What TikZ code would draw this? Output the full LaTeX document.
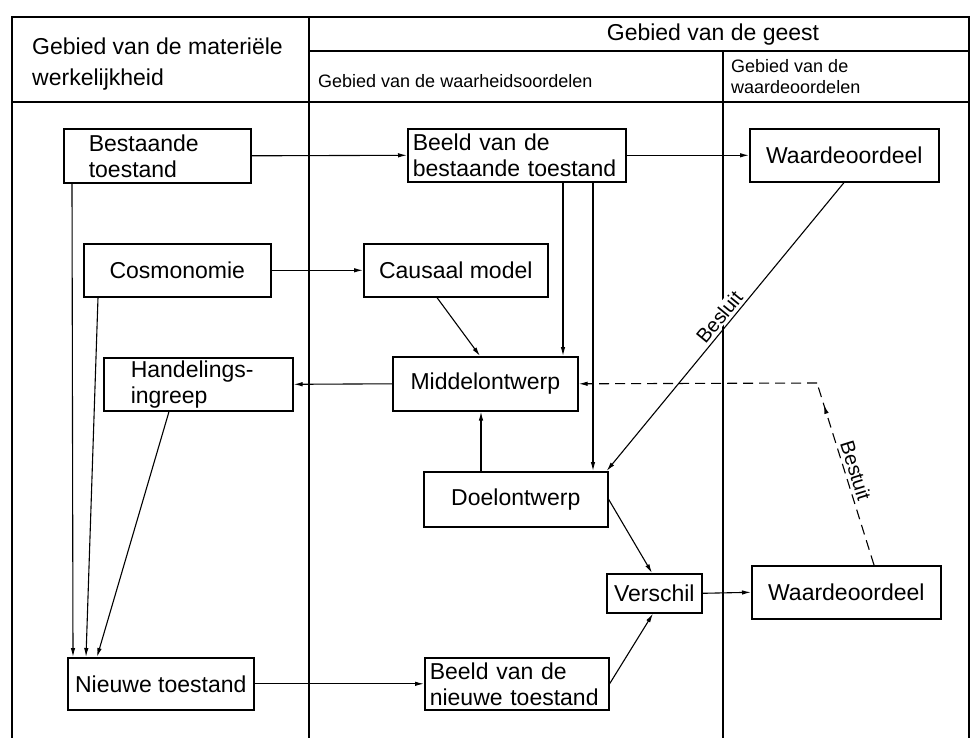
\documentclass[tikz,border=0pt]{standalone}
\usepackage{fontspec}
\setmainfont{Liberation Sans}
\usetikzlibrary{arrows.meta,decorations.markings}
\newcommand\boxfont{\fontsize{23}{26}\selectfont}
\newcommand\hdrfont{\fontsize{23}{31}\selectfont}
\newcommand\smallhdrfont{\fontsize{18}{21}\selectfont}
\newcommand\labfont{\fontsize{20}{22}\selectfont}
\begin{document}
\begin{tikzpicture}[x=1pt,y=-1pt,
  rule/.style={line width=1.2pt},
  box/.style={draw, line width=1.6pt, anchor=north west, inner ysep=0pt, font=\boxfont},
  lbox/.style={box, align=left},
  cbox/.style={box, align=center, inner xsep=2pt},
  tip/.style={-{Latex[length=9pt,width=4.5pt]}},
  conn/.style={line width=1.1pt, tip},
  flow/.style={line width=1.1pt, dash pattern=on 10pt off 6pt},
  hdr/.style={font=\hdrfont, anchor=west, align=left, inner sep=0pt},
  shdr/.style={font=\smallhdrfont, anchor=west, align=left, inner sep=0pt},
  lab/.style={font=\labfont, inner sep=1pt}
]
\useasboundingbox (0,0) rectangle (975,738);

% column rules and header rows
\draw[rule] (12,738) -- (12,17) -- (969,17) -- (969,738);
\draw[rule] (309,17) -- (309,738);
\draw[rule] (309,51) -- (969,51);
\draw[rule] (723,51) -- (723,738);
\draw[rule] (12,102) -- (969,102);

% column headings
\node[hdr] (hmat) at (32,64) {Gebied van de materiële\\werkelijkheid};
\node[font=\hdrfont, inner sep=0pt] (hgeest) at (713,35) {Gebied van de geest};
\node[shdr] (hwaarh) at (318,81) {Gebied van de waarheidsoordelen};
\node[shdr] (hwaarde) at (731,77) {Gebied van de\\waardeoordelen};

% material reality
\node[lbox, text width=137pt, inner xsep=25pt, minimum height=54pt] (bestaande) at (63,128) {Bestaande\\toestand};
\node[cbox, minimum width=187pt, minimum height=53pt] (cosmo) at (83,243) {Cosmonomie};
\node[lbox, text width=135pt, inner xsep=27pt, minimum height=53pt] (handel) at (103,357) {Handelings-\\ingreep};
\node[cbox, minimum width=186pt, minimum height=52pt] (nieuw) at (67,657) {Nieuwe toestand};

% judgements of truth
\node[lbox, text width=208pt, inner xsep=5pt, minimum height=53pt] (beeldb) at (407,128) {Beeld van de\\bestaande toestand};
\node[cbox, minimum width=184pt, minimum height=53pt] (causaal) at (363,243) {Causaal model};
\node[cbox, minimum width=185pt, minimum height=54pt] (middel) at (392,356) {Middelontwerp};
\node[cbox, minimum width=184pt, minimum height=55pt] (doel) at (423,471) {Doelontwerp};
\node[cbox, minimum width=95pt, minimum height=39pt] (verschil) at (606,573) {Verschil};
\node[lbox, text width=174pt, inner xsep=5pt, minimum height=52pt] (beeldn) at (424,657) {Beeld van de\\nieuwe toestand};

% value judgements
\node[cbox, minimum width=189pt, minimum height=53pt] (waarde1) at (749,128) {Waardeoordeel};
\node[cbox, minimum width=189pt, minimum height=53pt] (waarde2) at (751,565) {Waardeoordeel};

% horizontal links
\draw[conn] (bestaande.east) -- (beeldb.west);
\draw[conn] (beeldb.east) -- (waarde1.west);
\draw[conn] (cosmo.east) -- (causaal.west);
\draw[conn] (middel.west) -- (handel.east);
\draw[conn] (nieuw.east) -- (beeldn.west);
\draw[conn] (verschil.east) -- (waarde2.west);

% into the new state
\draw[conn] ([xshift=9pt]bestaande.south west) -- ([xshift=6pt]nieuw.north west);
\draw[conn] ([xshift=15pt]cosmo.south west) -- ([xshift=19pt]nieuw.north west);
\draw[conn] ([xshift=66pt]handel.south west) -- ([xshift=30pt]nieuw.north west);

% design of means and goal
\draw[conn] ([xshift=74pt]causaal.south west) -- ([xshift=88pt]middel.north west);
\draw[conn] ([xshift=156pt]beeldb.south west) -- ([xshift=171pt]middel.north west);
\draw[conn] ([xshift=186pt]beeldb.south west) -- ([xshift=170pt]doel.north west);
\draw[conn] ([xshift=58pt]doel.north west) -- ([xshift=89pt]middel.south west);
\draw[conn] ([xshift=95pt]waarde1.south west) -- node[lab, fill=white, sloped, above=2pt, pos=0.49] (besluit) {Besluit} ([xshift=-2pt]doel.north east);

% comparison
\draw[conn] (doel.east) -- ([xshift=46pt]verschil.north west);
\draw[conn] (beeldn.east) -- ([xshift=47pt]verschil.south west);

% steering feedback
\coordinate (bend) at (817,383);
\draw[flow, tip] (bend) -- (middel.east);
\draw[flow, postaction={decorate},
  decoration={markings, mark=at position 0.88 with {\arrow[solid]{Latex[length=9pt,width=4.5pt]}}}]
  ([xshift=123pt]waarde2.north west) -- node[lab, sloped, above=2pt, pos=0.5] (bestuit) {Bestuit} (bend);
\end{tikzpicture}
\end{document}
